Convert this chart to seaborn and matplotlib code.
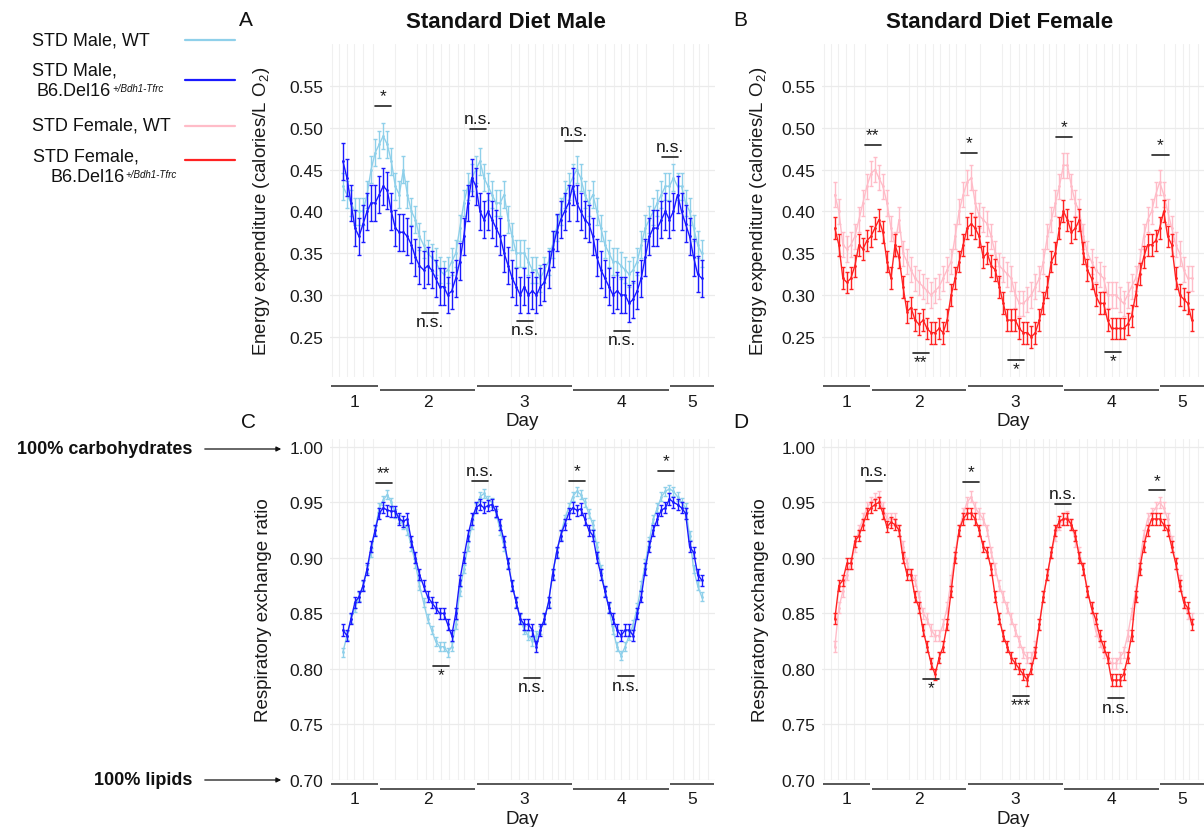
import numpy as np
import pandas as pd
import matplotlib
matplotlib.use("Agg")
import matplotlib.pyplot as plt
import matplotlib.transforms as mtransforms
from matplotlib.lines import Line2D
import seaborn as sns

# ---------------- data ----------------
hours = list(range(15, 105))
day_labels = ["1", "2", "3", "4", "5"]
day_edges = [24, 48, 72, 96]

ee_male_wt = [0.43, 0.42, 0.41, 0.40, 0.40, 0.40, 0.42, 0.45, 0.47, 0.48,
              0.49, 0.48, 0.46, 0.43, 0.42, 0.45, 0.42, 0.40, 0.39, 0.37,
              0.36, 0.35, 0.345, 0.34, 0.33, 0.325, 0.33, 0.34, 0.35, 0.38,
              0.41, 0.43, 0.44, 0.45, 0.46, 0.44, 0.43, 0.42, 0.41, 0.41,
              0.42, 0.39, 0.37, 0.35, 0.35, 0.35, 0.34, 0.33, 0.33, 0.32,
              0.33, 0.34, 0.36, 0.38, 0.40, 0.42, 0.43, 0.44, 0.45, 0.44,
              0.42, 0.41, 0.42, 0.40, 0.38, 0.36, 0.35, 0.34, 0.34, 0.335,
              0.33, 0.325, 0.33, 0.34, 0.36, 0.38, 0.39, 0.40, 0.41, 0.42,
              0.43, 0.43, 0.44, 0.43, 0.43, 0.41, 0.40, 0.38, 0.36, 0.35]
ee_male_del = [0.46, 0.44, 0.41, 0.38, 0.37, 0.385, 0.40, 0.41, 0.41, 0.42,
               0.43, 0.425, 0.40, 0.38, 0.375, 0.375, 0.37, 0.36, 0.345, 0.335,
               0.33, 0.335, 0.33, 0.32, 0.31, 0.31, 0.30, 0.305, 0.32, 0.34,
               0.37, 0.41, 0.44, 0.43, 0.40, 0.39, 0.40, 0.39, 0.38, 0.37,
               0.35, 0.335, 0.32, 0.31, 0.30, 0.31, 0.30, 0.305, 0.30, 0.31,
               0.315, 0.33, 0.355, 0.375, 0.39, 0.40, 0.41, 0.43, 0.41, 0.40,
               0.39, 0.385, 0.37, 0.345, 0.33, 0.32, 0.31, 0.30, 0.305, 0.30,
               0.30, 0.29, 0.295, 0.305, 0.32, 0.345, 0.37, 0.38, 0.38, 0.39,
               0.40, 0.39, 0.40, 0.42, 0.40, 0.385, 0.37, 0.345, 0.325, 0.32]
ee_female_wt = [0.42, 0.40, 0.36, 0.355, 0.36, 0.37, 0.39, 0.41, 0.43, 0.445,
                0.45, 0.44, 0.43, 0.41, 0.38, 0.36, 0.39, 0.35, 0.34, 0.33,
                0.32, 0.315, 0.31, 0.305, 0.30, 0.305, 0.31, 0.32, 0.33, 0.34,
                0.37, 0.40, 0.42, 0.435, 0.44, 0.41, 0.395, 0.39, 0.385, 0.37,
                0.35, 0.335, 0.33, 0.325, 0.32, 0.30, 0.29, 0.29, 0.295, 0.30,
                0.31, 0.32, 0.34, 0.37, 0.39, 0.41, 0.43, 0.455, 0.455, 0.43,
                0.41, 0.40, 0.37, 0.35, 0.34, 0.33, 0.325, 0.32, 0.30, 0.30,
                0.30, 0.295, 0.29, 0.30, 0.31, 0.32, 0.34, 0.37, 0.39, 0.40,
                0.42, 0.435, 0.42, 0.40, 0.38, 0.36, 0.35, 0.33, 0.32, 0.32]
ee_female_del = [0.38, 0.36, 0.32, 0.315, 0.32, 0.335, 0.36, 0.355, 0.365, 0.37,
                 0.38, 0.39, 0.375, 0.34, 0.32, 0.36, 0.345, 0.31, 0.28, 0.285,
                 0.27, 0.265, 0.27, 0.26, 0.255, 0.255, 0.26, 0.255, 0.27, 0.30,
                 0.32, 0.34, 0.36, 0.38, 0.385, 0.38, 0.37, 0.345, 0.35, 0.335,
                 0.33, 0.31, 0.29, 0.27, 0.27, 0.27, 0.26, 0.255, 0.255, 0.25,
                 0.255, 0.27, 0.29, 0.31, 0.34, 0.35, 0.38, 0.40, 0.39, 0.375,
                 0.38, 0.39, 0.35, 0.33, 0.32, 0.30, 0.29, 0.29, 0.27, 0.26,
                 0.26, 0.26, 0.26, 0.265, 0.275, 0.30, 0.325, 0.345, 0.36, 0.36,
                 0.365, 0.38, 0.40, 0.37, 0.36, 0.32, 0.30, 0.295, 0.29, 0.27]
rer_male_wt = [0.815, 0.83, 0.845, 0.855, 0.865, 0.875, 0.89, 0.905, 0.925, 0.945,
               0.952, 0.957, 0.95, 0.94, 0.935, 0.93, 0.925, 0.91, 0.895, 0.875,
               0.86, 0.845, 0.835, 0.825, 0.82, 0.82, 0.815, 0.82, 0.84, 0.87,
               0.89, 0.91, 0.93, 0.945, 0.955, 0.958, 0.952, 0.95, 0.94, 0.925,
               0.91, 0.895, 0.875, 0.86, 0.845, 0.835, 0.83, 0.825, 0.83, 0.835,
               0.845, 0.86, 0.885, 0.905, 0.92, 0.935, 0.945, 0.955, 0.96, 0.957,
               0.95, 0.94, 0.93, 0.91, 0.89, 0.87, 0.855, 0.835, 0.82, 0.812,
               0.82, 0.83, 0.84, 0.855, 0.875, 0.895, 0.915, 0.935, 0.945, 0.955,
               0.96, 0.962, 0.96, 0.955, 0.95, 0.945, 0.92, 0.89, 0.875, 0.865]
rer_male_del = [0.835, 0.83, 0.845, 0.86, 0.865, 0.875, 0.89, 0.91, 0.925, 0.94,
                0.945, 0.943, 0.942, 0.942, 0.935, 0.933, 0.935, 0.915, 0.90, 0.885,
                0.875, 0.865, 0.86, 0.855, 0.85, 0.85, 0.84, 0.83, 0.85, 0.88,
                0.90, 0.92, 0.935, 0.945, 0.948, 0.945, 0.947, 0.948, 0.942, 0.93,
                0.915, 0.895, 0.875, 0.86, 0.845, 0.84, 0.84, 0.835, 0.82, 0.835,
                0.845, 0.86, 0.885, 0.905, 0.92, 0.93, 0.94, 0.945, 0.943, 0.944,
                0.935, 0.925, 0.92, 0.90, 0.885, 0.87, 0.855, 0.845, 0.835, 0.83,
                0.835, 0.835, 0.83, 0.85, 0.865, 0.89, 0.91, 0.925, 0.935, 0.943,
                0.945, 0.953, 0.95, 0.948, 0.945, 0.94, 0.91, 0.905, 0.885, 0.88]
rer_female_wt = [0.82, 0.855, 0.87, 0.885, 0.895, 0.91, 0.925, 0.935, 0.945, 0.95,
                 0.953, 0.955, 0.945, 0.935, 0.935, 0.935, 0.925, 0.91, 0.895, 0.885,
                 0.88, 0.865, 0.85, 0.845, 0.835, 0.83, 0.83, 0.84, 0.855, 0.88,
                 0.905, 0.925, 0.94, 0.95, 0.955, 0.945, 0.94, 0.935, 0.925, 0.905,
                 0.89, 0.875, 0.865, 0.855, 0.845, 0.835, 0.825, 0.815, 0.81, 0.81,
                 0.82, 0.84, 0.865, 0.885, 0.905, 0.92, 0.93, 0.935, 0.937, 0.93,
                 0.915, 0.905, 0.89, 0.87, 0.855, 0.835, 0.825, 0.815, 0.81, 0.805,
                 0.805, 0.81, 0.815, 0.83, 0.85, 0.87, 0.895, 0.92, 0.935, 0.94,
                 0.945, 0.95, 0.945, 0.935, 0.915, 0.895, 0.88, 0.86, 0.85, 0.845]
rer_female_del = [0.845, 0.875, 0.88, 0.895, 0.895, 0.915, 0.92, 0.93, 0.94, 0.945,
                  0.948, 0.95, 0.94, 0.928, 0.932, 0.93, 0.925, 0.90, 0.885, 0.885,
                  0.865, 0.855, 0.835, 0.82, 0.805, 0.795, 0.81, 0.82, 0.84, 0.87,
                  0.90, 0.925, 0.935, 0.94, 0.94, 0.935, 0.925, 0.91, 0.905, 0.89,
                  0.865, 0.845, 0.83, 0.82, 0.81, 0.805, 0.80, 0.795, 0.79, 0.80,
                  0.815, 0.84, 0.865, 0.885, 0.905, 0.925, 0.933, 0.935, 0.935, 0.93,
                  0.92, 0.90, 0.89, 0.87, 0.855, 0.845, 0.83, 0.82, 0.81, 0.79,
                  0.79, 0.79, 0.795, 0.81, 0.83, 0.865, 0.89, 0.91, 0.925, 0.935,
                  0.935, 0.935, 0.93, 0.925, 0.91, 0.895, 0.875, 0.86, 0.855, 0.84]

sem = {"ee_male_wt": 0.016, "ee_male_del": 0.022, "ee_female_wt": 0.015, "ee_female_del": 0.013,
       "rer_male_wt": 0.004, "rer_male_del": 0.005, "rer_female_wt": 0.005, "rer_female_del": 0.005}

sig_A = [(24.9, 0.526, "*", "up"), (48.6, 0.499, "n.s.", "up"), (72.2, 0.484, "n.s.", "up"),
         (96.1, 0.465, "n.s.", "up"), (36.7, 0.2785, "n.s.", "down"), (60.2, 0.269, "n.s.", "down"),
         (84.3, 0.257, "n.s.", "down")]
sig_B = [(24.5, 0.479, "**", "up"), (48.4, 0.470, "*", "up"), (72.1, 0.489, "*", "up"),
         (96.2, 0.4675, "*", "up"), (36.4, 0.2306, "**", "down"), (60.2, 0.2222, "*", "down"),
         (84.4, 0.2318, "*", "down")]
sig_C = [(25.1, 0.9676, "**", "up"), (49.0, 0.969, "n.s.", "up"), (73.1, 0.969, "*", "up"),
         (95.2, 0.978, "*", "up"), (39.4, 0.8027, "*", "down"), (61.9, 0.792, "n.s.", "down"),
         (85.3, 0.7934, "n.s.", "down")]
sig_D = [(24.8, 0.969, "n.s.", "up"), (49.0, 0.968, "*", "up"), (71.9, 0.9486, "n.s.", "up"),
         (95.3, 0.9607, "*", "up"), (39.0, 0.791, "*", "down"), (61.4, 0.776, "***", "down"),
         (85.0, 0.7736, "n.s.", "down")]

# ---------------- style ----------------
C_MWT, C_MDEL, C_FWT, C_FDEL = "#8fd0ea", "#1a1aff", "#ffbcc8", "#ff2222"
sns.set_theme(style="whitegrid")
plt.rcParams["font.family"] = ["Liberation Sans", "DejaVu Sans"]
plt.rcParams["mathtext.fontset"] = "custom"
plt.rcParams["mathtext.rm"] = "Liberation Sans"
plt.rcParams["mathtext.it"] = "Liberation Sans:italic"

W, H = 1204, 828
fig = plt.figure(figsize=(W / 100, H / 100), dpi=100)
fig.patch.set_facecolor("white")


def rect(l, t, r, b):
    return [l / W, 1 - b / H, (r - l) / W, (b - t) / H]


XL = (11.8, 107.3)
vgrid = [12.2, 14.1, 15.9, 17.8, 19.9, 22.5, 28, 33.4, 35.5, 37.4, 39.4, 41.3, 43.5, 45.1,
         47.4, 51.1, 56.8, 58.8, 60.9, 62.6, 64.7, 66.8, 68.4, 70.2, 72.2, 75.9, 78, 80.1,
         82.2, 84.1, 85.9, 87.9, 90.1, 97, 99.7, 101.75, 103.4, 105.5]


def panel(ax, wt, dl, s_wt, s_dl, cw, cd, ylim, yticks, ylabel, sigs, seg_off, tickpad,
          xlab_y, ylab_x):
    n = len(hours)
    df = pd.DataFrame({"hour": hours * 2, "value": wt + dl,
                       "group": ["WT"] * n + ["Del"] * n})
    ax.errorbar(hours, wt, yerr=s_wt, fmt="none", ecolor=cw, elinewidth=1.0,
                capsize=1.6, capthick=1.0, zorder=2)
    ax.errorbar(hours, dl, yerr=s_dl, fmt="none", ecolor=cd, elinewidth=1.0,
                capsize=1.6, capthick=1.0, zorder=4)
    sns.lineplot(data=df[df.group == "WT"], x="hour", y="value", color=cw, lw=1.0,
                 ax=ax, legend=False, errorbar=None, zorder=3, marker="o", markersize=2,
                 markeredgewidth=0)
    sns.lineplot(data=df[df.group == "Del"], x="hour", y="value", color=cd, lw=1.0,
                 ax=ax, legend=False, errorbar=None, zorder=5, marker="o", markersize=2,
                 markeredgewidth=0)
    ax.set_xlim(*XL)
    ax.set_ylim(*ylim)
    ax.set_yticks(yticks)
    ax.set_yticklabels([f"{v:.2f}" for v in yticks])
    edges = [XL[0]] + day_edges + [XL[1]]
    mids = [(edges[i] + edges[i + 1]) / 2 for i in range(5)]
    ax.set_xticks(mids)
    ax.set_xticklabels(day_labels)
    ax.set_xticks(vgrid, minor=True)
    ax.grid(False, which="major", axis="x")
    ax.grid(True, which="minor", axis="x", color="#f0f0f0", lw=0.8)
    ax.grid(True, which="major", axis="y", color="#ebebeb", lw=0.9)
    ax.tick_params(axis="both", which="both", length=0, labelsize=12.5, colors="#1a1a1a")
    ax.tick_params(axis="x", pad=tickpad)
    ax.tick_params(axis="y", pad=5)
    for sp in ax.spines.values():
        sp.set_visible(False)
    ax.set_facecolor("white")
    ax.set_xlabel("Day", fontsize=13.5, color="#1a1a1a")
    ax.xaxis.set_label_coords(0.5, xlab_y)
    ax.set_ylabel(ylabel, fontsize=13.5, color="#1a1a1a")
    ax.yaxis.set_label_coords(ylab_x, 0.5)
    trans = mtransforms.blended_transform_factory(ax.transData, ax.transAxes)
    for i in range(5):
        yy = seg_off[0] if i % 2 == 0 else seg_off[1]
        ax.plot([edges[i] + 0.2, edges[i + 1] - 0.2], [yy, yy], transform=trans,
                color="#3a3a3a", lw=1.2, clip_on=False, solid_capstyle="butt")
    for tc, yv, lab, pos in sigs:
        ax.plot([tc - 2, tc + 2], [yv, yv], color="#222222", lw=1.2, clip_on=False,
                zorder=6)
        if pos == "up":
            ax.annotate(lab, (tc, yv), xytext=(0, 2.0), textcoords="offset points",
                        ha="center", va="bottom", fontsize=12.5, color="#1a1a1a",
                        annotation_clip=False)
        else:
            ax.annotate(lab, (tc, yv), xytext=(0, -1.0), textcoords="offset points",
                        ha="center", va="top", fontsize=12.5, color="#1a1a1a",
                        annotation_clip=False)


ee_ticks = [0.25, 0.30, 0.35, 0.40, 0.45, 0.50, 0.55]
rer_ticks = [0.70, 0.75, 0.80, 0.85, 0.90, 0.95, 1.00]
ee_lab = r"Energy expenditure (calories/L O$_2$)"
rer_lab = "Respiratory exchange ratio"

axA = fig.add_axes(rect(330, 45, 715, 378))
axB = fig.add_axes(rect(822, 45, 1205, 378))
axC = fig.add_axes(rect(330, 440, 715, 781))
axD = fig.add_axes(rect(822, 440, 1205, 781))

panel(axA, ee_male_wt, ee_male_del, sem["ee_male_wt"], sem["ee_male_del"], C_MWT, C_MDEL,
      (0.202, 0.600), ee_ticks, ee_lab, sig_A, (-0.027, -0.040), 12, -0.105, -0.150)
panel(axB, ee_female_wt, ee_female_del, sem["ee_female_wt"], sem["ee_female_del"], C_FWT,
      C_FDEL, (0.202, 0.600), ee_ticks, ee_lab, sig_B, (-0.027, -0.040), 12, -0.105, -0.138)
panel(axC, rer_male_wt, rer_male_del, sem["rer_male_wt"], sem["rer_male_del"], C_MWT, C_MDEL,
      (0.700, 1.007), rer_ticks, rer_lab, sig_C, (-0.012, -0.026), 8, -0.088, -0.150)
panel(axD, rer_female_wt, rer_female_del, sem["rer_female_wt"], sem["rer_female_del"], C_FWT,
      C_FDEL, (0.700, 1.007), rer_ticks, rer_lab, sig_D, (-0.012, -0.026), 8, -0.088, -0.138)

# titles and panel letters
fig.text(506 / W, 1 - 22 / H, "Standard Diet Male", fontsize=16, fontweight="bold",
         ha="center", va="center", color="#111111")
fig.text(1000 / W, 1 - 22 / H, "Standard Diet Female", fontsize=16, fontweight="bold",
         ha="center", va="center", color="#111111")
for lab, x, y in [("A", 246, 21), ("B", 740, 21), ("C", 248, 422), ("D", 741, 422)]:
    fig.text(x / W, 1 - y / H, lab, fontsize=15, ha="center", va="center", color="#111111")

# legend
leg_items = [("STD Male, WT", None, 41, 41, C_MWT, 32, None),
             ("STD Male,", "B6.Del16", 71, 81, C_MDEL, 32, 37),
             ("STD Female, WT", None, 126, 127, C_FWT, 32, None),
             ("STD Female,", "B6.Del16", 157, 161, C_FDEL, 33, 50)]
for main, second, ty, ly, col, tx, sx in leg_items:
    fig.text(tx / W, 1 - ty / H, main, fontsize=13, ha="left", va="center", color="#111111")
    if second:
        t2 = fig.text(sx / W, 1 - (ty + 20) / H, second, fontsize=13, ha="left",
                      va="center", color="#111111")
        axA.annotate("+/Bdh1-Tfrc", xy=(1, 1), xycoords=t2, xytext=(1, -1),
                     textcoords="offset points", fontsize=7, style="italic", ha="left",
                     va="top", color="#111111", annotation_clip=False)
    fig.add_artist(Line2D([185 / W, 235 / W], [1 - ly / H, 1 - ly / H], color=col, lw=1.6,
                          transform=fig.transFigure))

# RER reference arrows
for lab, y in [("100% carbohydrates", 450), ("100% lipids", 781)]:
    fig.text(192 / W, 1 - y / H, lab, fontsize=13, fontweight="bold", ha="right",
             va="center", color="#111111")
    fig.add_artist(matplotlib.patches.FancyArrowPatch(
        (202 / W, 1 - y / H), (284 / W, 1 - y / H), transform=fig.transFigure,
        arrowstyle="-|>", mutation_scale=7, lw=0.9, color="#111111"))

fig.savefig("out.png", dpi=100, facecolor="white")
